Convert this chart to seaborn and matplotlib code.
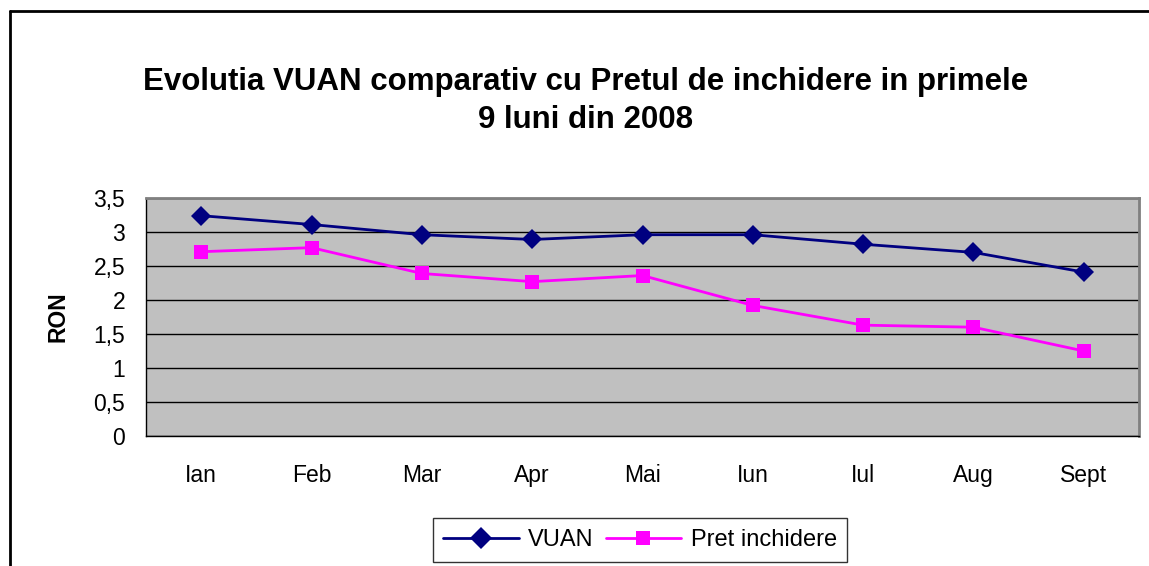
import numpy as np
import pandas as pd
import matplotlib
matplotlib.use("Agg")
import matplotlib.pyplot as plt
import matplotlib.ticker as mticker
from matplotlib.lines import Line2D
import seaborn as sns

# data
luni = ["Ian", "Feb", "Mar", "Apr", "Mai", "Iun", "Iul", "Aug", "Sept"]
vuan = [3.24, 3.11, 2.96, 2.89, 2.96, 2.96, 2.82, 2.70, 2.41]
pret_inchidere = [2.71, 2.77, 2.39, 2.27, 2.36, 1.92, 1.63, 1.60, 1.25]

df = pd.DataFrame({
    "Luna": luni * 2,
    "Valoare": vuan + pret_inchidere,
    "Serie": ["VUAN"] * len(luni) + ["Pret inchidere"] * len(luni),
})

sns.set_style("white")
plt.rcParams["font.family"] = ["Liberation Sans", "DejaVu Sans"]
plt.rcParams["text.color"] = "black"
plt.rcParams["axes.labelcolor"] = "black"
plt.rcParams["xtick.color"] = "black"
plt.rcParams["ytick.color"] = "black"

fig = plt.figure(figsize=(11.49, 5.66), dpi=100)
ax = fig.add_axes([146 / 1149, 130 / 566, (1139 - 146) / 1149, (436 - 198) / 566])
ax.set_facecolor("#C0C0C0")

sns.lineplot(data=df, x="Luna", y="Valoare", hue="Serie", style="Serie",
             palette={"VUAN": "#000080", "Pret inchidere": "#FF00FF"},
             markers={"VUAN": "D", "Pret inchidere": "s"},
             dashes=False, sort=False, linewidth=2, markersize=10,
             markeredgewidth=0, ax=ax, legend=False, zorder=3)

ax.set_xlim(-0.5, len(luni) - 0.5)
ax.set_ylim(0, 3.5)
ax.set_yticks(np.arange(0, 3.51, 0.5))
ax.yaxis.set_major_formatter(mticker.FuncFormatter(lambda v, p: f"{v:g}".replace(".", ",")))
ax.grid(axis="y", color="black", linewidth=1)
ax.set_axisbelow(True)

# x ticks between categories
ax.set_xticks(range(len(luni)))
ax.set_xticklabels(luni)
ax.set_xticks(np.arange(-0.5, len(luni), 1), minor=True)
ax.tick_params(axis="x", which="major", length=0, pad=20, labelsize=16.5)
ax.tick_params(axis="x", which="minor", length=7, width=1, color="black", direction="out")
ax.tick_params(axis="y", length=7, width=1, color="black", direction="out", labelsize=16.5, pad=8)

for s in ["left", "bottom"]:
    ax.spines[s].set_color("black")
    ax.spines[s].set_linewidth(1)
for s in ["top", "right"]:
    ax.spines[s].set_color("#808080")
    ax.spines[s].set_linewidth(2)

ax.set_xlabel("")
ax.set_ylabel("RON", fontsize=16.5, fontweight="bold", labelpad=17)

fig.text(586 / 1149, 1 - 90 / 566,
         "Evolutia VUAN comparativ cu Pretul de inchidere in primele",
         ha="center", va="baseline", fontsize=22.5, fontweight="bold")
fig.text(586 / 1149, 1 - 128 / 566, "9 luni din 2008",
         ha="center", va="baseline", fontsize=22.5, fontweight="bold")

handles = [
    Line2D([], [], color="#000080", marker="D", markersize=11, linewidth=2, markeredgewidth=0),
    Line2D([], [], color="#FF00FF", marker="s", markersize=10, linewidth=2, markeredgewidth=0),
]
leg = fig.legend(handles, ["VUAN", "Pret inchidere"], loc="center",
                 bbox_to_anchor=(640 / 1149, 1 - 540 / 566), ncol=2, fontsize=17,
                 frameon=True, fancybox=False, edgecolor="black", handlelength=3.2,
                 columnspacing=0.5, handletextpad=0.4, borderpad=0.45)
leg.get_frame().set_linewidth(1)

# outer chart border (left and top visible)
fig.add_artist(Line2D([10 / 1149, 10 / 1149], [0, 1 - 11 / 566], color="black",
                      linewidth=2, transform=fig.transFigure))
fig.add_artist(Line2D([10 / 1149, 1], [1 - 11 / 566, 1 - 11 / 566], color="black",
                      linewidth=2, transform=fig.transFigure))

fig.savefig("out.png", dpi=100, facecolor="white")
